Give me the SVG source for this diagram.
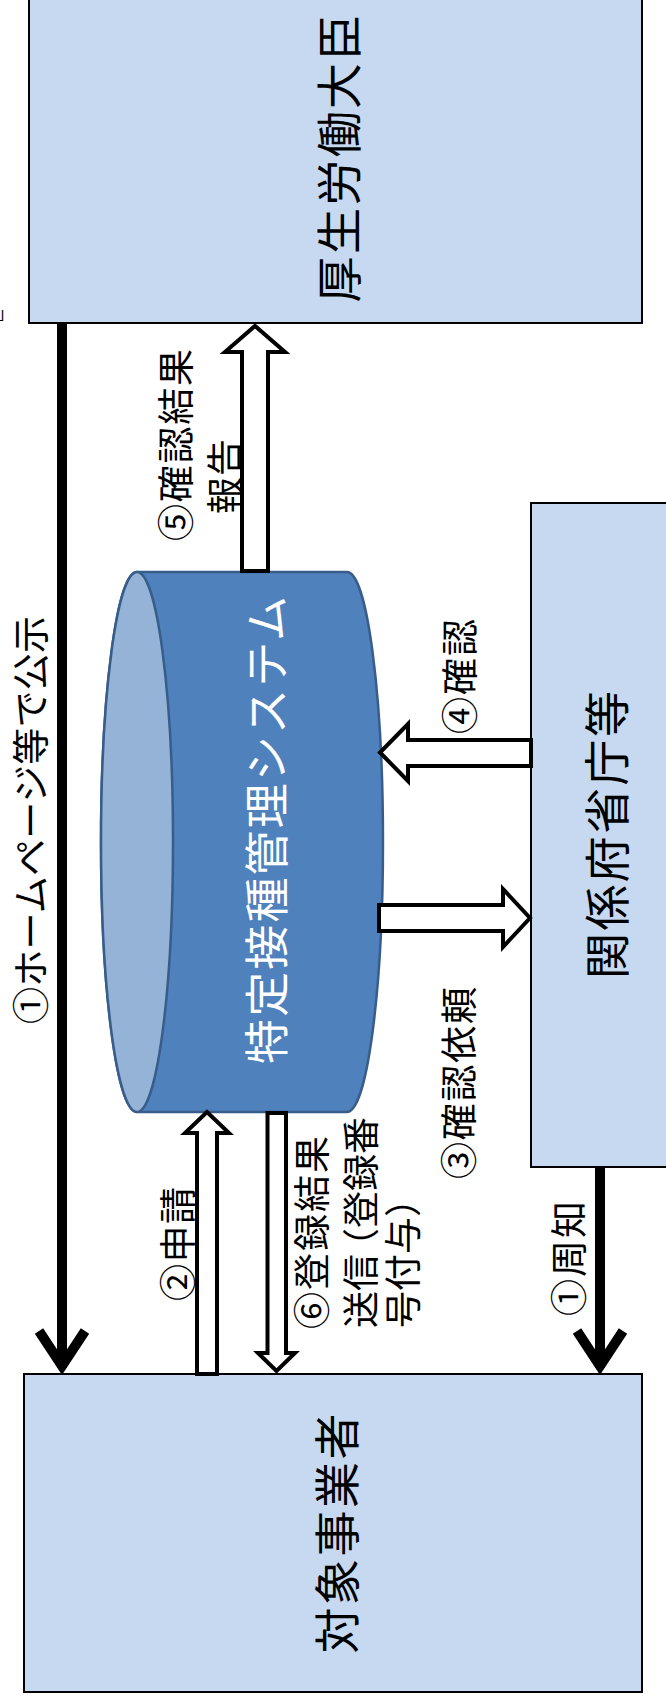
<svg xmlns="http://www.w3.org/2000/svg" width="666" height="1706" viewBox="0 0 666 1706">
<style>
.box{fill:#C6D9F1;stroke:#000;stroke-width:2}
.t{font-family:"Noto Sans CJK JP","Noto Sans CJK SC",sans-serif;fill:#000;text-anchor:middle;dominant-baseline:central}
.s{text-anchor:start}
.lbl{font-size:37px}
.big{font-size:46px}
.barrow{fill:#fff;stroke:#000;stroke-width:4;stroke-linejoin:miter}
.thick{stroke:#000;stroke-width:10;fill:none;stroke-linejoin:miter}
</style>
<rect width="666" height="1706" fill="#fff"/>
<text x="-2.5" y="319" style="font-family:'Noto Sans CJK JP',sans-serif;font-size:16px" fill="#000">」</text>

<g id="mhlw">
<rect class="box" x="29" y="-5" width="613" height="328"/>
<text class="t big" transform="translate(336,158.5) rotate(-90)" textLength="288" lengthAdjust="spacing">厚生労働大臣</text>
</g>

<g id="ministries">
<rect class="box" x="531" y="503" width="150" height="664"/>
<text class="t big" transform="translate(604,835) rotate(-90)" textLength="288" lengthAdjust="spacing">関係府省庁等</text>
</g>

<g id="businesses">
<rect class="box" x="24" y="1374" width="618" height="318"/>
<text class="t big" transform="translate(334,1533.5) rotate(-90)" textLength="240" lengthAdjust="spacing">対象事業者</text>
</g>

<g id="system">
<path d="M137,572 H347 A36,270 0 0 1 347,1112 H137 A36,270 0 0 1 137,572 Z" fill="#4F81BD" stroke="#385D8A" stroke-width="2.5"/>
<ellipse cx="137" cy="842" rx="36" ry="270" fill="#95B3D7" stroke="#385D8A" stroke-width="2.5"/>
<text class="t" style="font-size:45px;fill:#fff" transform="translate(264,830) rotate(-90)" textLength="468" lengthAdjust="spacing">特定接種管理システム</text>
</g>

<g id="connectors">
<line class="thick" x1="62" y1="323" x2="62" y2="1368"/>
<polyline class="thick" points="39,1331 62,1366 85,1331"/>
<line class="thick" x1="600" y1="1167" x2="600" y2="1368"/>
<polyline class="thick" points="577,1331 600,1366 623,1331"/>
<polygon class="barrow" points="242,571 268,571 268,352 285,352 255,326 225,352 242,352"/>
<polygon class="barrow" points="531,740 408,740 408,724 380,752.5 408,781 408,766 531,766"/>
<polygon class="barrow" points="379,905 503,905 503,889 530,918 503,947 503,931 379,931"/>
<polygon class="barrow" points="197,1374 217,1374 217,1133 229,1133 207,1112 185,1133 197,1133"/>
<polygon class="barrow" points="267.5,1113 286,1113 286,1353 295,1353 276.5,1371 258,1353 267.5,1353"/>
</g>

<g id="labels">
<text class="t lbl" transform="translate(29,820) rotate(-90)" textLength="408" lengthAdjust="spacing">①ホームページ等で公示</text>
<text class="t lbl" transform="translate(174,445) rotate(-90)" textLength="192" lengthAdjust="spacing">⑤確認結果</text>
<text class="t lbl" transform="translate(223,476.5) rotate(-90)" textLength="75" lengthAdjust="spacing">報告</text>
<text class="t lbl" transform="translate(458,676.5) rotate(-90)" textLength="115" lengthAdjust="spacing">④確認</text>
<text class="t lbl" transform="translate(457,1083) rotate(-90)" textLength="192" lengthAdjust="spacing">③確認依頼</text>
<text class="t lbl" transform="translate(567,1258.5) rotate(-90)" textLength="115" lengthAdjust="spacing">①周知</text>
<text class="t lbl" transform="translate(176,1244) rotate(-90)" textLength="114" lengthAdjust="spacing">②申請</text>
<text class="t lbl" transform="translate(310,1232.5) rotate(-90)" textLength="193" lengthAdjust="spacing">⑥登録結果</text>
<text class="t lbl s" transform="translate(359,1328) rotate(-90)">送信<tspan dx="-11">（</tspan>登録番</text>
<text class="t lbl s" transform="translate(401,1328) rotate(-90)">号付与）</text>
</g>
</svg>
